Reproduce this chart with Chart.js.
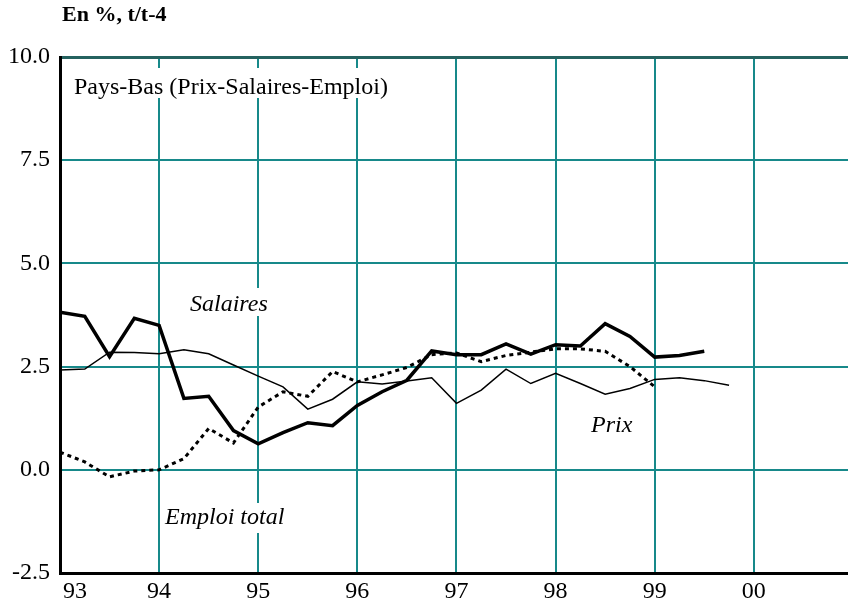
<!DOCTYPE html>
<html>
<head>
<meta charset="utf-8">
<script src="https://cdn.jsdelivr.net/npm/chart.js@4/dist/chart.umd.min.js"></script>
<style>
    html, body { margin: 0; padding: 0; background: #fff; }
    #wrap { width: 848px; height: 605px; position: relative; }
</style>
</head>
<body>
<div id="wrap"><canvas id="graphe"></canvas></div>
<script>
(function () {

    "use strict";

    // Trimestres (annee + fraction)
    var trimestres = [
        1993.00, 1993.25, 1993.50, 1993.75,
        1994.00, 1994.25, 1994.50, 1994.75,
        1995.00, 1995.25, 1995.50, 1995.75,
        1996.00, 1996.25, 1996.50, 1996.75,
        1997.00, 1997.25, 1997.50, 1997.75,
        1998.00, 1998.25, 1998.50, 1998.75,
        1999.00, 1999.25, 1999.50, 1999.75
    ];

    // Glissement annuel en %, t/t-4
    var salaires = [3.82, 3.72, 2.74, 3.67, 3.50, 1.73, 1.78, 0.95, 0.63, 0.90, 1.14, 1.07,
        1.56, 1.89, 2.17, 2.88, 2.79, 2.79, 3.05, 2.80, 3.03, 3.00, 3.54, 3.23, 2.73, 2.77, 2.87];
    var prix = [2.42, 2.44, 2.85, 2.84, 2.81, 2.91, 2.81, 2.54, 2.27, 2.01, 1.47, 1.71,
        2.13, 2.08, 2.15, 2.23, 1.61, 1.93, 2.44, 2.09, 2.34, 2.09, 1.83, 1.97, 2.19, 2.23, 2.16, 2.05];
    var emploi = [0.43, 0.19, -0.17, -0.03, 0.00, 0.27, 1.00, 0.65, 1.52, 1.89, 1.78, 2.38,
        2.13, 2.30, 2.48, 2.79, 2.83, 2.62, 2.77, 2.85, 2.93, 2.93, 2.87, 2.50, 2.01];

    // Graduations
    var annees = [1993, 1994, 1995, 1996, 1997, 1998, 1999, 2000];
    var etiquettesAnnees = ['93', '94', '95', '96', '97', '98', '99', '00'];
    var graduationsY = [-2.5, 0, 2.5, 5, 7.5, 10];

    var SERIF = '"Liberation Serif", "Times New Roman", serif';
    var TEAL = '#17898a';

    /**
     * Associe chaque valeur a son trimestre
     */
    function points(valeurs) {
        return valeurs.map(function (v, i) { return { x: trimestres[i], y: v }; });
    }

    // Titres et etiquettes, dessines sur fond blanc par-dessus la grille
    var etiquettes = {
        id: 'etiquettes',
        beforeDatasetsDraw: function (chart) {
            var ctx = chart.ctx;
            ctx.save();
            ctx.fillStyle = '#fff';
            ctx.fillRect(70, 68, 324, 30);
            ctx.fillRect(186, 288, 92, 28);
            ctx.fillRect(160, 503, 142, 30);
            ctx.fillStyle = '#000';
            ctx.textBaseline = 'middle';
            ctx.textAlign = 'left';
            ctx.font = '24px ' + SERIF;
            ctx.fillText('Pays-Bas (Prix-Salaires-Emploi)', 74, 88);
            ctx.font = 'italic 24px ' + SERIF;
            ctx.fillText('Salaires', 190, 305);
            ctx.fillText('Prix', 591, 426);
            ctx.fillText('Emploi total', 165, 518);
            ctx.restore();
        },
        afterDraw: function (chart) {
            var ctx = chart.ctx;
            var sx = chart.scales.x;
            ctx.save();
            ctx.fillStyle = '#000';
            ctx.textBaseline = 'middle';
            ctx.textAlign = 'center';
            ctx.font = '24px ' + SERIF;
            annees.forEach(function (a, i) {
                var px = sx.getPixelForValue(a);
                if (i === 0) px += 15;
                ctx.fillText(etiquettesAnnees[i], px, 592);
            });
            ctx.font = 'bold 22px ' + SERIF;
            ctx.textAlign = 'left';
            ctx.fillText('En %, t/t-4', 62, 15);
            ctx.restore();
        }
    };

    new Chart(document.getElementById('graphe'), {
        type: 'line',
        data: {
            datasets: [{
                label: 'Salaires',
                data: points(salaires),
                borderColor: '#000',
                borderWidth: 3.5,
                pointRadius: 0,
                tension: 0
            }, {
                label: 'Prix',
                data: points(prix),
                borderColor: '#000',
                borderWidth: 1.5,
                pointRadius: 0,
                tension: 0
            }, {
                label: 'Emploi total',
                data: points(emploi),
                borderColor: '#000',
                borderWidth: 3,
                borderDash: [4, 4],
                borderCapStyle: 'butt',
                pointRadius: 0,
                tension: 0
            }]
        },
        options: {
            responsive: true,
            maintainAspectRatio: false,
            animation: false,
            layout: { padding: { top: 57, right: 0, left: 0, bottom: 0 } },
            plugins: {
                legend: { display: false },
                tooltip: { enabled: false }
            },
            scales: {
                x: {
                    type: 'linear',
                    min: 1993,
                    max: 2000.95,
                    afterBuildTicks: function (scale) {
                        scale.ticks = annees.map(function (a) { return { value: a }; });
                    },
                    afterFit: function (scale) { scale.height = 32; },
                    ticks: { display: false },
                    grid: { color: TEAL, lineWidth: 2, drawTicks: false },
                    border: { color: '#000', width: 3 }
                },
                y: {
                    min: -2.5,
                    max: 10,
                    afterBuildTicks: function (scale) {
                        scale.ticks = graduationsY.map(function (v) { return { value: v }; });
                    },
                    afterFit: function (scale) { scale.width = 60; },
                    ticks: {
                        color: '#000',
                        padding: 10,
                        font: { family: SERIF, size: 24 },
                        callback: function (v) { return Number(v).toFixed(1); }
                    },
                    grid: {
                        drawTicks: false,
                        color: function (c) { return c.tick && c.tick.value === 10 ? '#24625f' : TEAL; },
                        lineWidth: function (c) { return c.tick && c.tick.value === 10 ? 3 : 2; }
                    },
                    border: { color: '#000', width: 3 }
                }
            }
        },
        plugins: [etiquettes]
    });

})();
</script>
</body>
</html>
